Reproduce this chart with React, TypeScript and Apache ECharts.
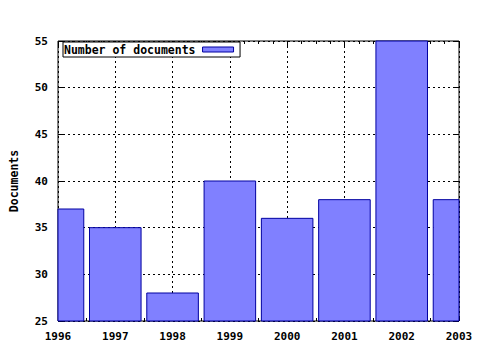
import React, { useEffect, useRef } from "react";
import * as echarts from "echarts";

const years = [1996, 1997, 1998, 1999, 2000, 2001, 2002, 2003];
const documents = [37, 35, 28, 40, 36, 38, 55, 38];
const seriesName = "Number of documents";
const yMin = 25;
const yMax = 55;

const FONT = "DejaVu Sans Mono";

export default function App() {
  const ref = useRef<HTMLDivElement>(null);
  useEffect(() => {
    if (!ref.current) return;
    const chart = echarts.init(ref.current, undefined, { renderer: "svg" });
    const axisCommon = {
      type: "value" as const,
      axisLine: { show: false },
      axisTick: { show: true, inside: true, length: 5, lineStyle: { color: "#000" } },
    };
    chart.setOption({
      animation: false,
      backgroundColor: "#fff",
      grid: {
        left: 57,
        top: 41,
        width: 402,
        height: 280,
        show: true,
        borderColor: "#000",
        borderWidth: 1,
        backgroundColor: "transparent",
      },
      legend: {
        show: true,
        left: 63,
        top: 42,
        align: "right",
        padding: [1, 6, 1, 1],
        borderColor: "#000",
        borderWidth: 1,
        backgroundColor: "#fff",
        itemWidth: 31,
        itemHeight: 5,
        textStyle: {
          fontFamily: FONT,
          fontSize: 11.5,
          fontWeight: "bold",
          color: "#000",
          lineHeight: 13,
          padding: [0, 2, 0, 0],
        },
        data: [
          {
            name: seriesName,
            icon: "rect",
            itemStyle: { color: "#8080ff", borderColor: "#0000a0", borderWidth: 1 },
          },
        ],
      },
      xAxis: [
        {
          ...axisCommon,
          position: "bottom",
          min: years[0],
          max: years[years.length - 1],
          interval: 1,
          minorTick: { show: true, splitNumber: 4, length: 3, lineStyle: { color: "#000" } },
          splitLine: { show: true, lineStyle: { color: "#000", type: [2, 3], width: 1 } },
          axisLabel: {
            margin: 10,
            fontFamily: FONT,
            fontSize: 11,
            fontWeight: "bold",
            color: "#000",
            formatter: (v: number) => String(v),
          },
        },
        {
          ...axisCommon,
          position: "top",
          min: years[0],
          max: years[years.length - 1],
          interval: 1,
          minorTick: { show: true, splitNumber: 4, length: 3, lineStyle: { color: "#000" } },
          splitLine: { show: false },
          axisLabel: { show: false },
        },
      ],
      yAxis: [
        {
          ...axisCommon,
          position: "left",
          min: yMin,
          max: yMax,
          interval: 5,
          name: "Documents",
          nameLocation: "middle",
          nameGap: 38,
          nameTextStyle: { fontFamily: FONT, fontSize: 11.5, fontWeight: "bold", color: "#000" },
          splitLine: { show: true, lineStyle: { color: "#000", type: [2, 3], width: 1 } },
          axisLabel: { margin: 10, fontFamily: FONT, fontSize: 11, fontWeight: "bold", color: "#000" },
        },
        {
          ...axisCommon,
          position: "right",
          min: yMin,
          max: yMax,
          interval: 5,
          splitLine: { show: false },
          axisLabel: { show: false },
        },
      ],
      series: [
        {
          name: seriesName,
          type: "custom",
          xAxisIndex: 0,
          yAxisIndex: 0,
          itemStyle: { color: "#8080ff", borderColor: "#0000a0", borderWidth: 1 },
          data: years.map((y, i) => [y, documents[i]]),
          renderItem: (params: any, api: any) => {
            const x = api.value(0);
            const v = api.value(1);
            const p1 = api.coord([x - 0.45, v]);
            const p2 = api.coord([x + 0.45, yMin]);
            const cs = params.coordSys;
            const x0 = Math.max(p1[0], cs.x);
            const x1 = Math.min(p2[0], cs.x + cs.width);
            return {
              type: "rect",
              shape: { x: x0, y: p1[1], width: x1 - x0, height: p2[1] - p1[1] },
              style: { fill: "#8080ff", stroke: "#0000a0", lineWidth: 1 },
            };
          },
        },
      ],
    });
    return () => chart.dispose();
  }, []);
  return <div ref={ref} style={{ width: 480, height: 350, position: "absolute", left: 0, top: 0 }} />;
}
